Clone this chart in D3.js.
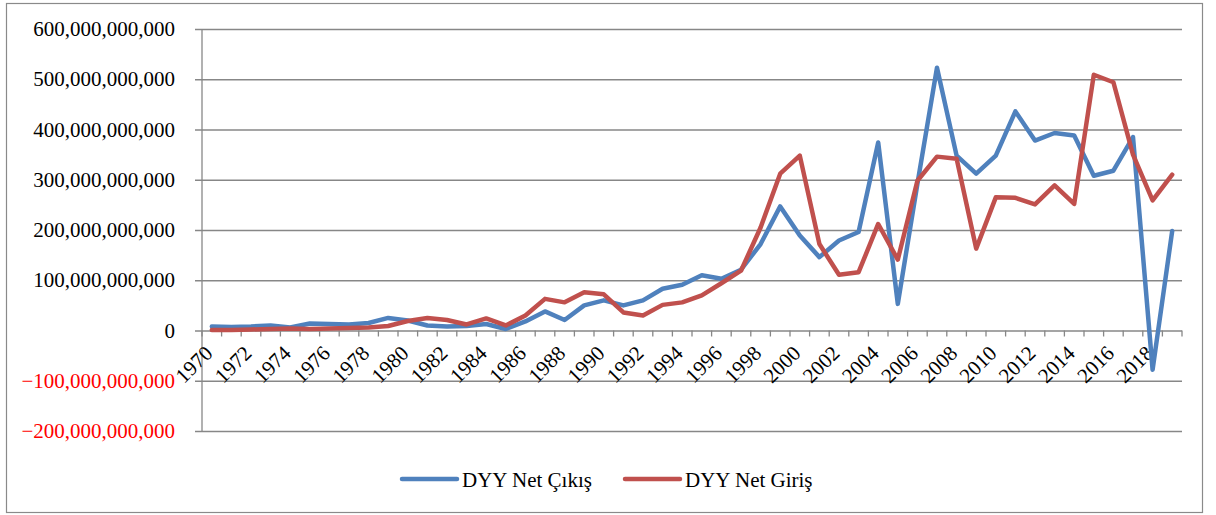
<!DOCTYPE html>
<html>
<head>
<meta charset="utf-8">
<script src="https://cdn.jsdelivr.net/npm/d3@7"></script>
<style>
  body { margin: 0; background: #fff; }
  svg { display: block; }
  svg text { font-family: "Liberation Serif", "Times New Roman", serif; }
</style>
</head>
<body>
<script>
// years on the category axis
const years = d3.range(1970, 2020);

// values in billions (x 1e9)
const netCikis = [8, 7, 8, 10, 6, 14, 13, 12, 15, 25,
  20, 10, 8, 9, 13, 3, 18, 38, 21, 50,
  60, 50, 60, 83, 91, 110, 103, 121, 172, 247,
  189, 146, 179, 196, 374, 53, 292, 523, 348, 312,
  348, 436, 378, 393, 388, 308, 318, 385, -78, 198];

const netGiris = [1, 1, 2, 3, 4, 3, 4, 5, 6, 9,
  19, 25, 21, 12, 24, 10, 30, 63, 56, 76,
  72, 36, 30, 51, 56, 70, 94, 119, 205, 312,
  348, 172, 111, 116, 212, 141, 298, 346, 342, 163,
  265, 264, 251, 289, 252, 509, 494, 350, 259, 310];

const yTicks = [-200, -100, 0, 100, 200, 300, 400, 500, 600];
const seriesNames = ["DYY Net Çıkış", "DYY Net Giriş"];
const seriesColors = ["#4F81BD", "#C0504D"];

const W = 1216, H = 515;
const pLeft = 202, pRight = 1182, pTop = 29, pBottom = 431;
const gridColor = "#878787";
const serif = '"Liberation Serif", "Times New Roman", serif';

const svg = d3.select("body").append("svg").attr("width", W).attr("height", H);

// outer chart border
svg.append("rect").attr("x", 6.5).attr("y", 3.5).attr("width", 1196).attr("height", 509)
  .attr("fill", "#fff").attr("stroke", "#8a8a8a").attr("stroke-width", 1.2);

const x = d3.scaleBand().domain(years).range([pLeft, pRight]);
const y = d3.scaleLinear().domain([-200, 600]).range([pBottom, pTop]);

// horizontal gridlines + y labels
const yAxis = d3.axisLeft(y).tickValues(yTicks).tickSize(-(pRight - pLeft + 7))
  .tickFormat(d => d3.format(",")(d * 1e9));
const gy = svg.append("g").attr("transform", `translate(${pLeft - 7},0)`).call(yAxis)
  .attr("font-family", null);
gy.select(".domain").remove();
gy.selectAll(".tick line").attr("stroke", gridColor).attr("stroke-width", 1.3);
gy.selectAll(".tick text").style("font-family", serif).style("font-size", "21px")
  .attr("fill", d => d < 0 ? "#ff0000" : "#000").attr("x", -20);

// vertical axis line
svg.append("line").attr("x1", pLeft).attr("x2", pLeft).attr("y1", pTop).attr("y2", pBottom)
  .attr("stroke", gridColor).attr("stroke-width", 1.3);

// category axis on the zero line, ticks between categories
const y0 = y(0);
const bounds = d3.range(0, years.length + 1).map(i => pLeft + i * x.step());
svg.append("g").selectAll("line").data(bounds).join("line")
  .attr("x1", d => d).attr("x2", d => d).attr("y1", y0).attr("y2", y0 + 6)
  .attr("stroke", gridColor).attr("stroke-width", 1.3);

svg.append("g").selectAll("text").data(years.filter((d, i) => i % 2 === 0)).join("text")
  .attr("transform", d => `translate(${x(d) + x.bandwidth() / 2 + 2},${y0 + 24}) rotate(-45)`)
  .attr("text-anchor", "end").style("font-family", serif).style("font-size", "21px").attr("fill", "#000")
  .text(d => d);

// lines
const line = d3.line().x((d, i) => x(years[i]) + x.bandwidth() / 2).y(d => y(d));
[netCikis, netGiris].forEach((vals, k) => {
  svg.append("path").datum(vals).attr("d", line).attr("fill", "none")
    .attr("stroke", seriesColors[k]).attr("stroke-width", 4.5)
    .attr("stroke-linejoin", "round").attr("stroke-linecap", "round");
});

// legend
const legendX = [402, 625];
seriesNames.forEach((name, k) => {
  svg.append("line").attr("x1", legendX[k]).attr("x2", legendX[k] + 55).attr("y1", 479).attr("y2", 479)
    .attr("stroke", seriesColors[k]).attr("stroke-width", 4.5).attr("stroke-linecap", "round");
  svg.append("text").attr("x", legendX[k] + 60).attr("y", 487)
    .style("font-family", serif).style("font-size", "21px").attr("fill", "#000")
    .text(name);
});
</script>
</body>
</html>
